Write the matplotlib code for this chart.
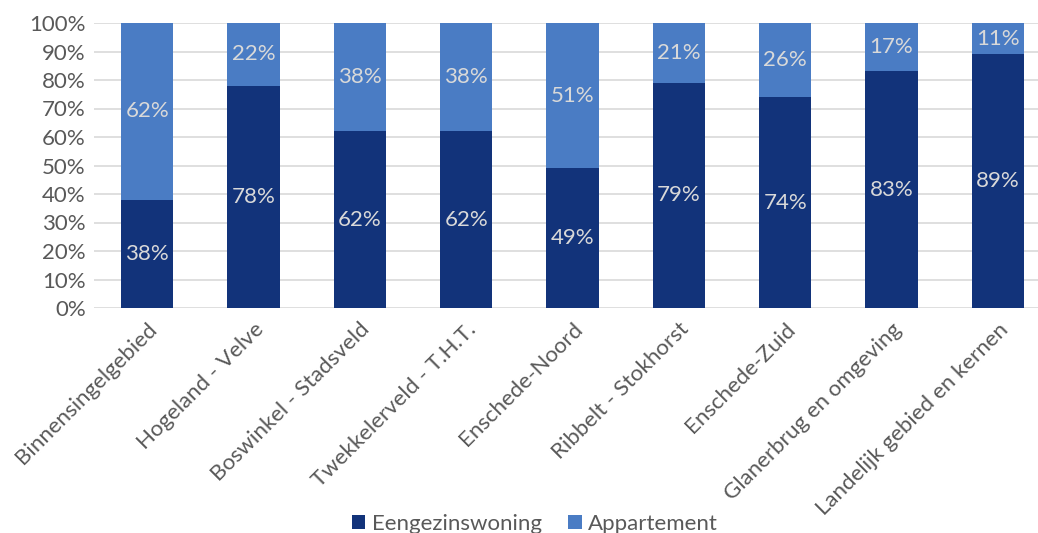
import matplotlib.pyplot as plt
import numpy as np

gebieden = ['Binnensingelgebied', 'Hogeland - Velve', 'Boswinkel - Stadsveld',
            'Twekkelerveld - T.H.T.', 'Enschede-Noord', 'Ribbelt - Stokhorst',
            'Enschede-Zuid', 'Glanerbrug en omgeving', 'Landelijk gebied en kernen']
eengezins = [38, 78, 62, 62, 49, 79, 74, 83, 89]
appartement = [62, 22, 38, 38, 51, 21, 26, 17, 11]

plt.rcParams['font.family'] = ['Lato', 'DejaVu Sans']

fig = plt.figure(figsize=(10.38, 5.33), dpi=100)
ax = fig.add_axes([94 / 1038, 1 - 308 / 533, 957 / 1038, 285 / 533])

x = np.arange(len(gebieden))
donker = '#12337a'
licht = '#4a7cc4'
b1 = ax.bar(x, eengezins, width=0.49, color=donker, label='Eengezinswoning', zorder=2)
b2 = ax.bar(x, appartement, width=0.49, bottom=eengezins, color=licht,
            label='Appartement', zorder=2)

for i in range(len(gebieden)):
    ax.text(x[i], eengezins[i] / 2, f'{eengezins[i]}%', ha='center', va='center',
            color='#d9d9d9', fontsize=16)
    ax.text(x[i], eengezins[i] + appartement[i] / 2, f'{appartement[i]}%', ha='center',
            va='center', color='#d9d9d9', fontsize=16)

ax.set_xlim(-0.5, len(gebieden) - 0.5)
ax.set_ylim(0, 100)
ax.set_yticks(range(0, 101, 10))
ax.set_yticklabels([f'{v}%' for v in range(0, 101, 10)], color='#595959', fontsize=16)
ax.set_xticks(x)
ax.set_xticklabels(gebieden, rotation=45, ha='right', rotation_mode='anchor',
                   color='#595959', fontsize=16)
ax.tick_params(axis='both', length=0)
ax.tick_params(axis='y', pad=6)
ax.tick_params(axis='x', pad=8)
ax.grid(axis='y', color='#d9d9d9', linewidth=1.2, zorder=0)
for s in ax.spines.values():
    s.set_visible(False)

fig.legend(handles=[b1, b2], loc='center', bbox_to_anchor=(535 / 1038, 1 - 524 / 533),
           ncol=2, frameon=False, fontsize=16, handlelength=0.6, handleheight=0.6,
           columnspacing=1.2, handletextpad=0.3, labelcolor='#595959')

fig.savefig('out.png', dpi=100)
